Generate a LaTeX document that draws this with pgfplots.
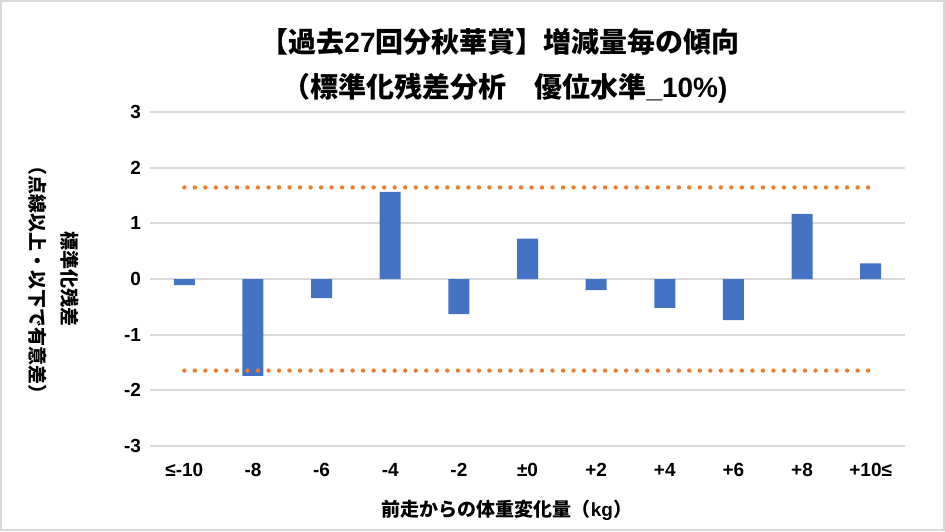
\documentclass[border=0pt]{standalone}
\usepackage{fontspec}
\setmainfont{Noto Sans CJK JP}
\newfontfamily\latinfont{Liberation Sans}
\usepackage{pgfplots}
\pgfplotsset{compat=1.18}
\definecolor{barblue}{HTML}{4472C4}
\definecolor{dotorange}{HTML}{ED7D31}
\definecolor{gridgray}{HTML}{D9D9D9}
\begin{document}
\begin{tikzpicture}
\useasboundingbox (0,0) rectangle (472.5pt,-265.5pt);
\draw[gridgray, line width=0.75pt] (0.4pt,-0.4pt) rectangle (472.1pt,-265.1pt);
\begin{axis}[at={(75pt,-223pt)}, anchor=south west, scale only axis,
  width=377.5pt, height=167pt,
  xmin=-0.5, xmax=10.5, ymin=-3, ymax=3,
  ytick={-3,-2,-1,0,1,2,3}, xtick={0,1,2,3,4,5,6,7,8,9,10},
  xticklabels={≤-10,-8,-6,-4,-2,±0,+2,+4,+6,+8,+10≤},
  axis line style={draw=none}, major tick length=0pt,
  ymajorgrids, grid style={gridgray, line width=1pt},
  tick label style={font=\latinfont\fontsize{9.5}{10}\selectfont\bfseries},
  /pgf/number format/assume math mode=true,
  yticklabel style={xshift=-1pt}, xticklabel style={yshift=-5pt},
  clip=false]
\addplot[ybar, bar width=10.5pt, fill=barblue, draw=none] coordinates {
(0,-0.11) (1,-1.74) (2,-0.345) (3,1.565) (4,-0.63) (5,0.726) (6,-0.20) (7,-0.52) (8,-0.74) (9,1.17) (10,0.28)};
\addplot[dotorange, line width=2.2pt, line cap=round, dash pattern=on 0pt off 5.26pt, no marks] coordinates {(0,1.645) (10,1.645)};
\addplot[dotorange, line width=2.2pt, line cap=round, dash pattern=on 0pt off 5.26pt, no marks] coordinates {(0,-1.645) (10,-1.645)};
\end{axis}
\node[font=\fontsize{14}{16}\selectfont\bfseries] at (250pt,-21pt) {【過去{\latinfont 27}回分秋華賞】増減量毎の傾向};
\node[font=\fontsize{14}{16}\selectfont\bfseries] at (252.5pt,-44pt) {（標準化残差分析　優位水準{\latinfont\_10\%)}};
\node[font=\fontsize{9.5}{10}\selectfont\bfseries] at (253.5pt,-255pt) {前走からの体重変化量（{\latinfont kg}）};
\node[font=\fontsize{9.5}{10}\selectfont\bfseries, rotate=-90] at (35pt,-139.5pt) {標準化残差};
\node[font=\fontsize{9.5}{10}\selectfont\bfseries, rotate=-90] at (19pt,-140pt) {（点線以上・以下で有意差）};
\end{tikzpicture}
\end{document}
